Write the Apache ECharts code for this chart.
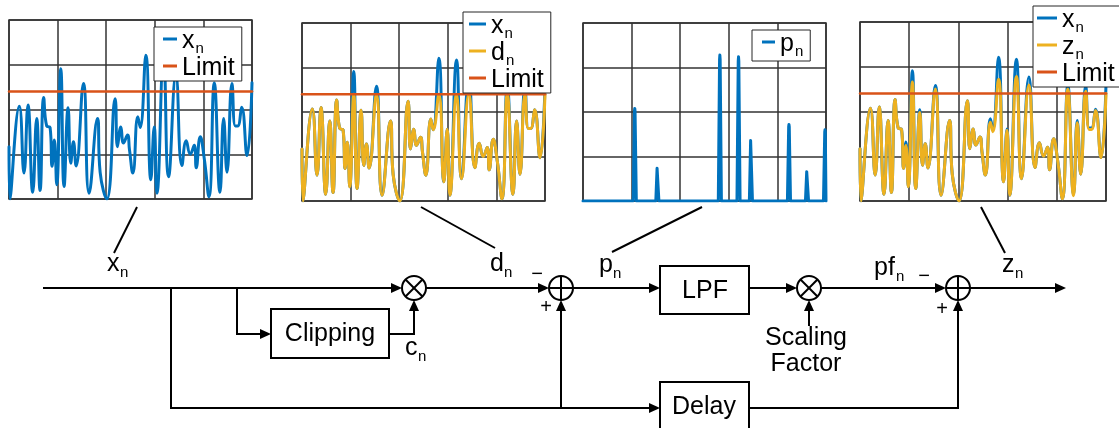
<!DOCTYPE html>
<html>
<head>
<meta charset="utf-8">
<script src="https://cdn.jsdelivr.net/npm/echarts@6/dist/echarts.min.js"></script>
<style>
html,body{margin:0;padding:0;background:#fff;}
#chart{width:1119px;height:428px;}
</style>
</head>
<body>
<div id="chart"></div>
<script>
// Sample positions along the time axis (0..500) and the signal envelopes at those positions
const sampleX = [0, 2, 21.3, 30.9, 39.1, 48.8, 57, 63.9, 71.4, 77.6, 84.5, 88.6, 93.4, 98.2, 106.5, 113.3,
  121.6, 127.1, 132.6, 138, 153.2, 164.8, 182, 187.5, 201.2, 218.4, 223.2, 230.1, 235.6, 243.8, 247.9,
  254.8, 265.1, 269.9, 281.6, 291.9, 298.8, 304.3, 318, 328.3, 343.4, 355.8, 364.7, 372.9, 381.2, 385.3,
  393.5, 401.8, 411.4, 422.4, 434.1, 441.6, 448.5, 458.8, 465.7, 470.5, 478.7, 489.7, 500];

// input x_n
const xnValues = [1.17, 0, 2.07, 0.58, 2.1, 0.15, 1.8, 0.19, 2.27, 1.63, 1.6, 0.73, 1.32, 0.32, 2.91, 0.28,
  2.04, 0.8, 1.28, 0.74, 2.58, 0.13, 1.8, 0.6, 0, 2.24, 1.17, 1.61, 1.25, 1.43, 1.1,
  0.58, 1.84, 1.6, 3.21, 0.43, 1.61, 0.13, 3.17, 0.5, 2.77, 0.75, 1.3, 1.0, 1.2, 0.7,
  1.39, 0.9, 0.05, 2.59, 0.15, 1.8, 0.6, 2.58, 1.63, 1.63, 2.05, 0.97, 2.6];

// clipped d_n
const dnValues = [1.17, 0, 2.07, 0.58, 2.1, 0.15, 1.8, 0.19, 2.27, 1.63, 1.6, 0.73, 1.32, 0.32, 2.4, 0.28,
  2.04, 0.8, 1.28, 0.74, 2.4, 0.13, 1.8, 0.6, 0, 2.24, 1.17, 1.61, 1.25, 1.43, 1.1,
  0.58, 1.84, 1.6, 2.4, 0.43, 1.61, 0.13, 2.4, 0.5, 2.4, 0.75, 1.3, 1.0, 1.2, 0.7,
  1.39, 0.9, 0.05, 2.4, 0.15, 1.8, 0.6, 2.4, 1.63, 1.63, 2.05, 0.97, 2.4];

// output z_n after peak cancellation
const znValues = [1.17, 0, 2.07, 0.58, 2.1, 0.15, 1.8, 0.19, 2.27, 1.63, 1.6, 0.73, 1.24, 0.32, 2.66, 0.28,
  1.98, 0.8, 1.28, 0.74, 2.5, 0.13, 1.8, 0.6, 0, 2.24, 1.17, 1.61, 1.25, 1.43, 1.1,
  0.58, 1.76, 1.55, 2.72, 0.43, 1.58, 0.13, 2.78, 0.5, 2.59, 0.75, 1.3, 1.0, 1.2, 0.7,
  1.39, 0.9, 0.05, 2.5, 0.12, 1.75, 0.6, 2.45, 1.6, 1.6, 2.02, 0.97, 2.4];

const limitValue = 2.4;

// peak signal p_n: pulse positions and heights
const pulseX = [106.5, 153, 281.6, 320, 345.5, 423.8, 460.9, 498];
const pulseValues = [0.52, 0.19, 0.82, 0.81, 0.35, 0.43, 0.17, 0.40];

const FONT = '"Liberation Sans", Arial, Helvetica, sans-serif';
const BLUE = '#0072BD', YELLOW = '#EDB120', RED = '#D95319';

const pairs = vals => sampleX.map((x, i) => [x, vals[i]]);
function pulseTrain() {
  const w = 3.2;
  const d = [[0, 0]];
  pulseX.forEach((x, i) => {
    d.push([x - w, 0], [x - 0.6, pulseValues[i] * 0.97], [x, pulseValues[i]], [x + 0.6, pulseValues[i] * 0.97]);
    if (x + w < 500) d.push([x + w, 0]);
  });
  if (d[d.length - 1][0] < 500) d.push([500, 0]);
  return d;
}
const limitLine = [[0, limitValue], [500, limitValue]];

const gridBoxes = [
  { left: 9, top: 20, width: 243, height: 179 },
  { left: 302, top: 23, width: 243, height: 178 },
  { left: 583, top: 23, width: 243, height: 178 },
  { left: 860, top: 22, width: 246, height: 179 }
];
const gridColor = '#333';

const grids = gridBoxes.map(b => Object.assign({ show: true, borderColor: gridColor, borderWidth: 1.5, backgroundColor: '#fff' }, b));
const xAxes = gridBoxes.map((b, i) => ({
  type: 'value', gridIndex: i, min: 0, max: 500, interval: 100,
  axisLine: { show: false }, axisTick: { show: false }, axisLabel: { show: false },
  splitLine: { show: true, lineStyle: { color: gridColor, width: 1.5 } }
}));
const yAxes = gridBoxes.map((b, i) => ({
  type: 'value', gridIndex: i, min: 0, max: i === 2 ? 1 : 4, interval: i === 2 ? 0.25 : 1,
  axisLine: { show: false }, axisTick: { show: false }, axisLabel: { show: false },
  splitLine: { show: true, lineStyle: { color: gridColor, width: 1.5 } }
}));

function lineSeries(name, data, idx, color, width, smooth) {
  return {
    type: 'line', name, data, xAxisIndex: idx, yAxisIndex: idx,
    smooth: smooth, showSymbol: false, symbol: 'none',
    color, lineStyle: { color, width, join: 'round', cap: 'round' }, animation: false, silent: true
  };
}

const series = [
  lineSeries('xn', pairs(xnValues), 0, BLUE, 3, 0.5),
  lineSeries('Limit', limitLine, 0, RED, 2.5, false),
  lineSeries('xn', pairs(xnValues), 1, BLUE, 3, 0.5),
  lineSeries('dn', pairs(dnValues), 1, YELLOW, 3, 0.5),
  lineSeries('Limit', limitLine, 1, RED, 2.5, false),
  lineSeries('pn', pulseTrain(), 2, BLUE, 3, false),
  lineSeries('xn', pairs(xnValues), 3, BLUE, 3, 0.5),
  lineSeries('zn', pairs(znValues), 3, YELLOW, 3, 0.5),
  lineSeries('Limit', limitLine, 3, RED, 2.5, false)
];

const legendRich = {
  m: { fontSize: 25, fontFamily: FONT, color: '#000', lineHeight: 20, verticalAlign: 'top' },
  s: { fontSize: 15, fontFamily: FONT, color: '#000', lineHeight: 12, padding: [12, 0, 0, 1], verticalAlign: 'top' }
};
const legendLabel = { xn: '{m|x}{s|n}', dn: '{m|d}{s|n}', pn: '{m|p}{s|n}', zn: '{m|z}{s|n}', Limit: '{m|Limit}' };
function legend(names, left, top, padL, iconW, padB) {
  return {
    data: names, left, top, orient: 'vertical', icon: 'rect', itemWidth: iconW, itemHeight: 3,
    itemGap: 0, padding: [2, 7, padB, padL], borderColor: '#262626', borderWidth: 1, backgroundColor: '#fff',
    borderRadius: 0, selectedMode: false,
    formatter: n => legendLabel[n],
    textStyle: { fontFamily: FONT, fontSize: 25, color: '#000', rich: legendRich }
  };
}
const legends = [
  legend(['xn', 'Limit'], 154, 27, 9, 14, 0),
  legend(['xn', 'dn', 'Limit'], 463, 12, 6, 17, 0),
  legend(['pn'], 752, 30, 10, 13, 2),
  legend(['xn', 'zn', 'Limit'], 1033, 6, 4, 20, 0)
];

// ---- block diagram ----
const G = [];
const LW = 2;
function seg(pts) {
  G.push({ type: 'polyline', shape: { points: pts }, style: { stroke: '#000', lineWidth: LW, fill: null }, silent: true });
}
function arrow(pts) {
  const n = pts.length;
  const [x1, y1] = pts[n - 2], [x2, y2] = pts[n - 1];
  const L = 11, W = 5;
  const dx = x2 - x1, dy = y2 - y1, len = Math.hypot(dx, dy);
  const ux = dx / len, uy = dy / len;
  const bx = x2 - ux * L, by = y2 - uy * L;
  const body = pts.slice(0, n - 1).concat([[bx + ux * 1, by + uy * 1]]);
  seg(body);
  G.push({ type: 'polygon', shape: { points: [[x2, y2], [bx - uy * W, by + ux * W], [bx + uy * W, by - ux * W]] },
    style: { fill: '#000', stroke: null }, silent: true });
}
function junction(cx, cy, kind) {
  const r = 12;
  G.push({ type: 'circle', shape: { cx, cy, r }, style: { stroke: '#000', lineWidth: LW, fill: '#fff' }, silent: true });
  if (kind === 'mul') {
    const d = r * Math.SQRT1_2;
    seg([[cx - d, cy - d], [cx + d, cy + d]]);
    seg([[cx - d, cy + d], [cx + d, cy - d]]);
  } else {
    seg([[cx - r, cy], [cx + r, cy]]);
    seg([[cx, cy - r], [cx, cy + r]]);
  }
}
function box(x, y, w, h, label, tx, ty) {
  G.push({ type: 'rect', shape: { x, y, width: w, height: h }, style: { stroke: '#000', lineWidth: LW, fill: '#fff' }, silent: true });
  text(label, tx, ty, 25, 'center');
}
function text(t, x, y, size, align) {
  G.push({ type: 'text', x: 0, y: 0, silent: true,
    style: { text: t, x, y, font: size + 'px ' + FONT, fill: '#000', align: align || 'left', verticalAlign: 'middle',
      textAlign: align || 'left', textVerticalAlign: 'middle' } });
}
// label with subscript n; positions given by baselines
function subLabel(main, x, base, subX) {
  text(main, x, base - 8.8, 25, 'left');
  text('n', subX, base + 5 - 5.3, 15, 'left');
}

const Y = 288;
// signal path
arrow([[43, Y], [402, Y]]);
arrow([[171, Y], [171, 408], [660, 408]]);
arrow([[237, Y], [237, 334], [271, 334]]);
arrow([[389, 334], [414, 334], [414, 300]]);
arrow([[426, Y], [549, Y]]);
arrow([[561, 408], [561, 300]]);
arrow([[573, Y], [660, Y]]);
arrow([[749, Y], [797, Y]]);
arrow([[809, 326], [809, 300]]);
arrow([[821, Y], [946, Y]]);
arrow([[970, Y], [1066, Y]]);
arrow([[749, 408], [958, 408], [958, 300]]);

junction(414, Y, 'mul');
junction(561, Y, 'add');
junction(809, Y, 'mul');
junction(958, Y, 'add');

box(271, 309, 118, 49, 'Clipping', 330, 334);
box(660, 266, 89, 48, 'LPF', 705, 291);
box(660, 382, 89, 52, 'Delay', 704, 407);

text('Scaling', 806, 338, 25, 'center');
text('Factor', 806, 364, 25, 'center');

text('\u2212', 537, 274, 20, 'center');
text('+', 546, 307, 20, 'center');
text('\u2212', 924, 276, 20, 'center');
text('+', 942, 309, 20, 'center');

subLabel('x', 107, 273, 120);
subLabel('d', 490, 273, 504);
subLabel('c', 405, 357, 418);
subLabel('p', 599, 274, 613);
subLabel('pf', 874, 277, 896);
subLabel('z', 1002, 274, 1015);

// leader lines from the signal names to their plots
seg([[114, 253], [137, 207]]);
seg([[495, 248], [421, 207]]);
seg([[612, 252], [702, 207]]);
seg([[1005, 253], [981, 207]]);

const chart = echarts.init(document.getElementById('chart'), null, { renderer: 'canvas' });
chart.setOption({
  animation: false,
  backgroundColor: '#fff',
  grid: grids,
  xAxis: xAxes,
  yAxis: yAxes,
  legend: legends,
  series: series,
  graphic: { elements: G }
});
</script>
</body>
</html>
